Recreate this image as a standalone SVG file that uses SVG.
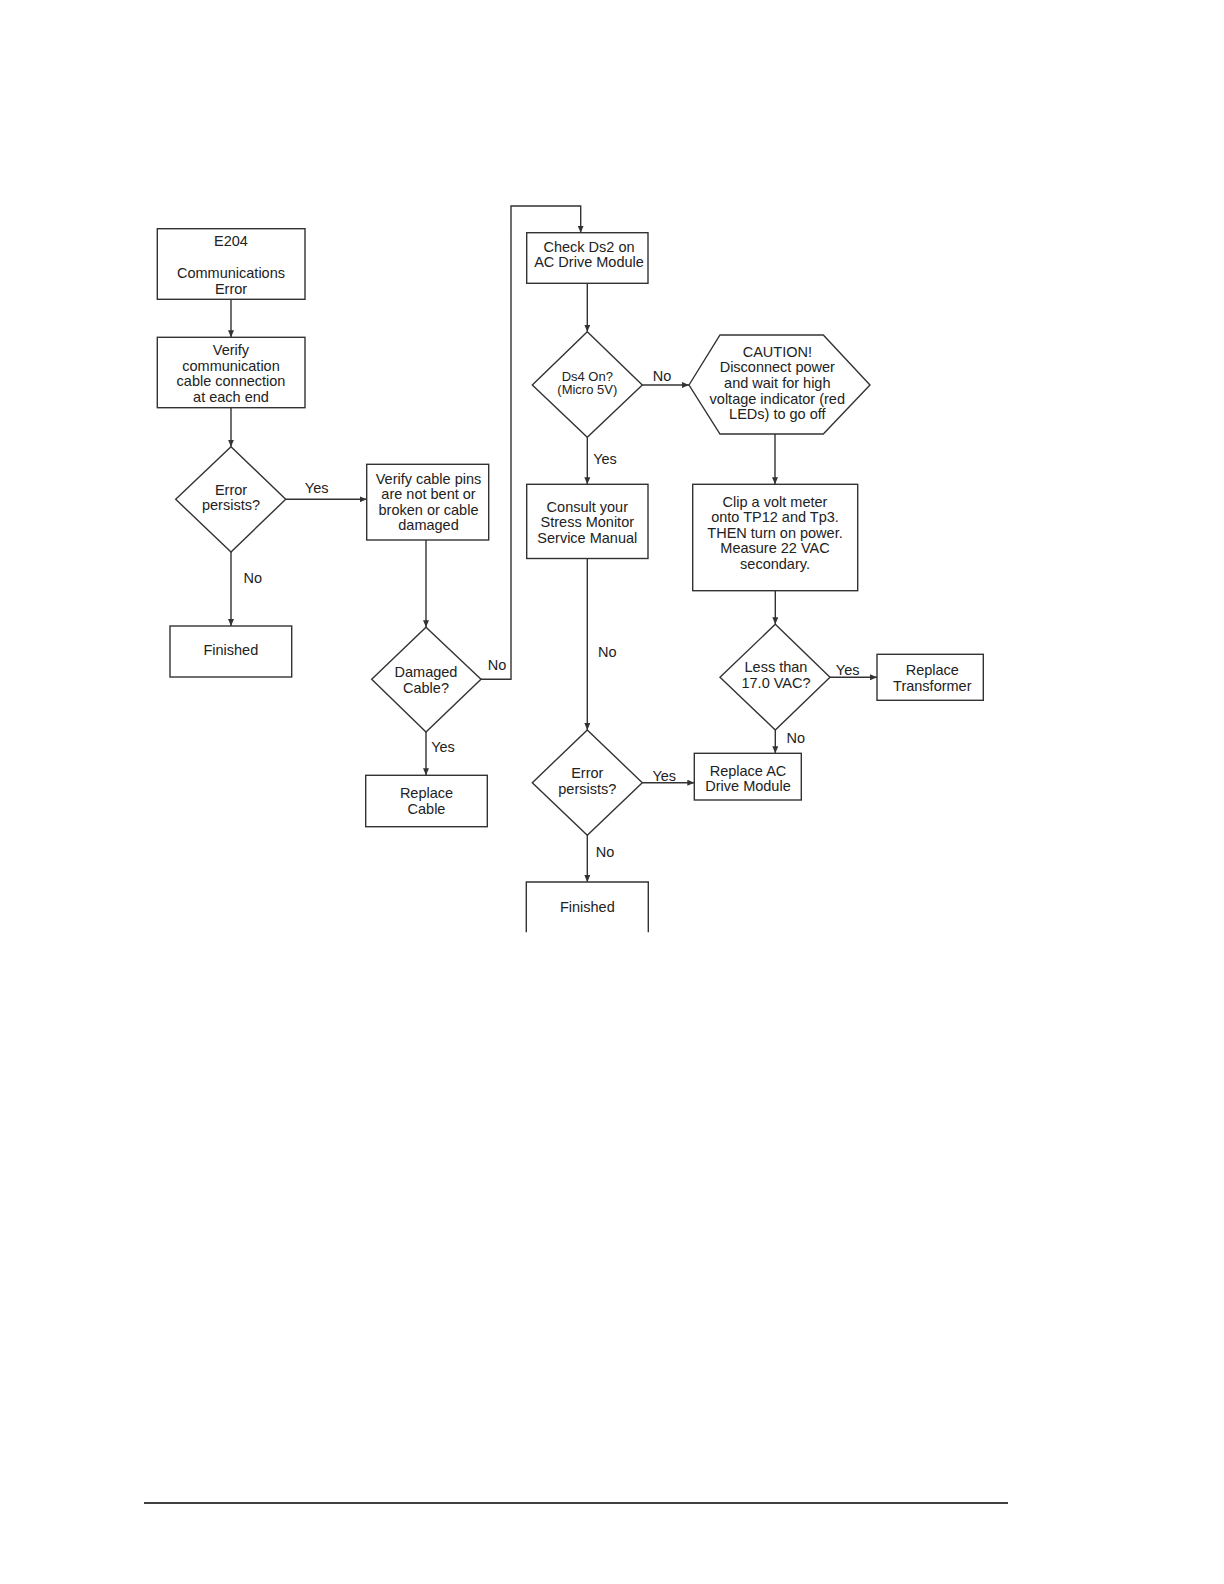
<svg xmlns="http://www.w3.org/2000/svg" width="1224" height="1584" viewBox="0 0 1224 1584">
<style>
  .shape { fill: #ffffff; stroke: #333333; stroke-width: 1.4; }
  .conn { fill: none; stroke: #333333; stroke-width: 1.4; }
  text { font-family: "Liberation Sans", Arial, sans-serif; font-size: 14.5px; fill: #222222; text-anchor: middle; }
  .small { font-size: 13px; }
</style>
<defs>
  <marker id="ah" markerWidth="8" markerHeight="6" refX="7" refY="3" orient="auto" markerUnits="userSpaceOnUse">
    <path d="M0,0 L7,3 L0,6 z" fill="#333333"/>
  </marker>
</defs>
<rect width="1224" height="1584" fill="#ffffff"/>

<g id="connectors">
  <path class="conn" d="M231,299.3 L231,337.3" marker-end="url(#ah)"/>
  <path class="conn" d="M231,407.7 L231,446.7" marker-end="url(#ah)"/>
  <path class="conn" d="M285.7,499.3 L366.7,499.3" marker-end="url(#ah)"/>
  <path class="conn" d="M231,552 L231,626" marker-end="url(#ah)"/>
  <path class="conn" d="M426,540 L426,627.3" marker-end="url(#ah)"/>
  <path class="conn" d="M481,679.3 L511,679.3 L511,206 L580.7,206 L580.7,232.7" marker-end="url(#ah)"/>
  <path class="conn" d="M426,732 L426,775.3" marker-end="url(#ah)"/>
  <path class="conn" d="M587.3,283.3 L587.3,331.7" marker-end="url(#ah)"/>
  <path class="conn" d="M642.3,385 L689,385" marker-end="url(#ah)"/>
  <path class="conn" d="M587.3,437.3 L587.3,484.3" marker-end="url(#ah)"/>
  <path class="conn" d="M775,434 L775,484.3" marker-end="url(#ah)"/>
  <path class="conn" d="M587.3,558.5 L587.3,730" marker-end="url(#ah)"/>
  <path class="conn" d="M775.3,590.7 L775.3,624.3" marker-end="url(#ah)"/>
  <path class="conn" d="M830,677.3 L877,677.3" marker-end="url(#ah)"/>
  <path class="conn" d="M775.3,730 L775.3,753.3" marker-end="url(#ah)"/>
  <path class="conn" d="M642.3,782.7 L694.3,782.7" marker-end="url(#ah)"/>
  <path class="conn" d="M587.3,835.3 L587.3,882" marker-end="url(#ah)"/>
  <text x="316.7" y="493.3">Yes</text>
  <text x="252.7" y="583.3">No</text>
  <text x="497" y="670">No</text>
  <text x="443" y="752.3">Yes</text>
  <text x="662" y="381">No</text>
  <text x="605" y="464.3">Yes</text>
  <text x="607.3" y="656.7">No</text>
  <text x="847.7" y="675">Yes</text>
  <text x="795.7" y="743.3">No</text>
  <text x="664.3" y="780.7">Yes</text>
  <text x="605" y="856.7">No</text>
</g>

<g id="n-e204">
  <rect class="shape" x="157.3" y="228.7" width="147.7" height="70.6"/>
  <text x="231" y="246">E204</text>
  <text x="231" y="277.7">Communications</text>
  <text x="231" y="293.5">Error</text>
</g>
<g id="n-verify-conn">
  <rect class="shape" x="157.3" y="337.3" width="147.7" height="70.4"/>
  <text x="231" y="355.3">Verify</text>
  <text x="231" y="370.8">communication</text>
  <text x="231" y="386.3">cable connection</text>
  <text x="231" y="401.8">at each end</text>
</g>
<g id="n-error1">
  <polygon class="shape" points="231,446.7 285.7,499.3 231,552 175.7,499.3"/>
  <text x="231" y="495">Error</text>
  <text x="231" y="510">persists?</text>
</g>
<g id="n-finished1">
  <rect class="shape" x="170" y="626" width="121.7" height="51"/>
  <text x="230.8" y="655">Finished</text>
</g>
<g id="n-verify-pins">
  <rect class="shape" x="366.7" y="464.3" width="122" height="75.7"/>
  <text x="428.5" y="483.5">Verify cable pins</text>
  <text x="428.5" y="499">are not bent or</text>
  <text x="428.5" y="514.8">broken or cable</text>
  <text x="428.5" y="530.3">damaged</text>
</g>
<g id="n-damaged">
  <polygon class="shape" points="426,627.3 481,679.3 426,732 371.7,679.3"/>
  <text x="426" y="677.3">Damaged</text>
  <text x="426" y="692.7">Cable?</text>
</g>
<g id="n-replace-cable">
  <rect class="shape" x="365.7" y="775.3" width="121.6" height="51.4"/>
  <text x="426.5" y="798.3">Replace</text>
  <text x="426.5" y="813.5">Cable</text>
</g>
<g id="n-check-ds2">
  <rect class="shape" x="526.7" y="232.7" width="121.3" height="50.6"/>
  <text x="589" y="251.7">Check Ds2 on</text>
  <text x="589" y="267.3">AC Drive Module</text>
</g>
<g id="n-ds4">
  <polygon class="shape" points="587.3,331.7 642.3,385 587.3,437.3 532.3,385"/>
  <text class="small" x="587.3" y="380.7">Ds4 On?</text>
  <text class="small" x="587.3" y="394.3">(Micro 5V)</text>
</g>
<g id="n-caution">
  <polygon class="shape" points="689,385 720,335 823.3,335 870,385 823.3,434 720,434"/>
  <text x="777.3" y="356.7">CAUTION!</text>
  <text x="777.3" y="372.3">Disconnect power</text>
  <text x="777.3" y="388">and wait for high</text>
  <text x="777.3" y="403.5">voltage indicator (red</text>
  <text x="777.3" y="418.8">LEDs) to go off</text>
</g>
<g id="n-consult">
  <rect class="shape" x="526.7" y="484.3" width="121.3" height="74.2"/>
  <text x="587.3" y="511.7">Consult your</text>
  <text x="587.3" y="527">Stress Monitor</text>
  <text x="587.3" y="542.7">Service Manual</text>
</g>
<g id="n-clip">
  <rect class="shape" x="692.7" y="484.3" width="165" height="106.4"/>
  <text x="775" y="506.7">Clip a volt meter</text>
  <text x="775" y="522.3">onto TP12 and Tp3.</text>
  <text x="775" y="537.8">THEN turn on power.</text>
  <text x="775" y="553.3">Measure 22 VAC</text>
  <text x="775" y="568.5">secondary.</text>
</g>
<g id="n-less-than">
  <polygon class="shape" points="775.3,624.3 830,677.3 775.3,730 720,677.3"/>
  <text x="776" y="672.3">Less than</text>
  <text x="776" y="687.7">17.0 VAC?</text>
</g>
<g id="n-replace-transformer">
  <rect class="shape" x="877" y="654.3" width="106.3" height="46"/>
  <text x="932.3" y="675">Replace</text>
  <text x="932.3" y="690.7">Transformer</text>
</g>
<g id="n-replace-ac">
  <rect class="shape" x="694.3" y="753.3" width="107" height="46.7"/>
  <text x="748" y="776">Replace AC</text>
  <text x="748" y="791.3">Drive Module</text>
</g>
<g id="n-error2">
  <polygon class="shape" points="587.3,730 642.3,782.7 587.3,835.3 532.3,782.7"/>
  <text x="587.3" y="778.3">Error</text>
  <text x="587.3" y="794">persists?</text>
</g>
<g id="n-finished2">
  <rect x="526.3" y="882" width="122" height="50.3" fill="#ffffff" stroke="none"/>
  <path class="conn" d="M526.3,932.3 L526.3,882 L648.3,882 L648.3,932.3"/>
  <text x="587.3" y="911.7">Finished</text>
</g>

<line x1="144" y1="1503" x2="1008" y2="1503" stroke="#000000" stroke-width="1.6"/>
</svg>
